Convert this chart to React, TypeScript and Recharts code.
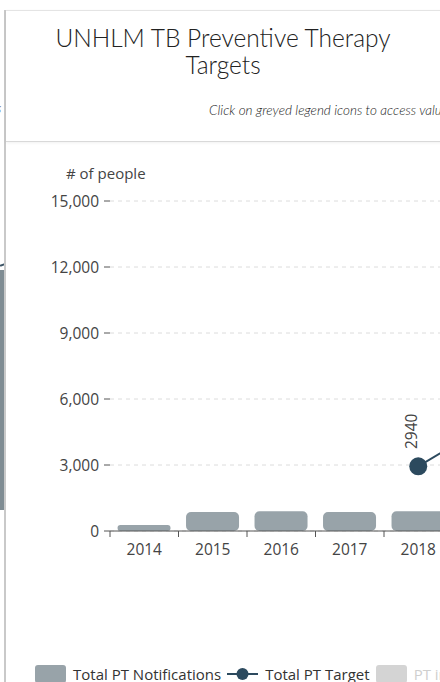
import { Bar, CartesianGrid, ComposedChart, LabelList, Line, XAxis, YAxis } from 'recharts';

const years = ['2014', '2015', '2016', '2017', '2018', '2019', '2020', '2021', '2022'];
const ptNotifications = [270, 860, 900, 860, 900, 980, 940, 1080, 1150];
const ptTarget = [null, null, null, null, 2940, 4800, 6700, 8600, 10500];
const yTicks = [0, 3000, 6000, 9000, 12000, 15000];

const legendItems = [
  { label: 'Total PT Notifications', kind: 'rect', color: '#98a3a9', text: '#333' },
  { label: 'Total PT Target', kind: 'line', color: '#2c4a5e', text: '#333' },
  { label: 'PT in children', kind: 'rect', color: '#d4d4d4', text: '#cfcfcf' },
];

const data = years.map((year, i) => ({
  year,
  notifications: ptNotifications[i],
  target: ptTarget[i],
}));

const BAND = 68.5;
const Y_AXIS_W = 104;
const CHART_W = Y_AXIS_W + BAND * years.length;
const CHART_H = 420;
const FONT = '"Open Sans", sans-serif';

const fmt = (v: number) => v.toLocaleString('en-US');

function XTick({ x, y, payload }: any) {
  const bx = x - BAND / 2;
  return (
    <g>
      <line x1={bx} x2={bx} y1={y} y2={y + 6} stroke="#555" strokeWidth={1} />
      <text x={x} y={y + 13} dy="0.71em" textAnchor="middle" fill="#444" fontSize={15.5} fontFamily={FONT}>
        {payload.value}
      </text>
    </g>
  );
}

function TargetLabel({ x, y, value }: any) {
  if (value == null) return null;
  const lx = x - 7;
  const ly = y - 35;
  return (
    <text
      x={lx}
      y={ly}
      transform={`rotate(-90, ${lx}, ${ly})`}
      textAnchor="middle"
      dominantBaseline="central"
      fill="#444"
      fontSize={15.5}
      fontFamily={FONT}
    >
      {value}
    </text>
  );
}

export default function App() {
  return (
    <div
      style={{
        position: 'fixed',
        left: 0,
        top: 0,
        width: 440,
        height: 682,
        overflow: 'hidden',
        background: '#fff',
        fontFamily: FONT,
      }}
    >
      {/* neighbouring panel sliver */}
      <div style={{ position: 'absolute', left: 0, top: 270, width: 5, height: 240, background: '#7f8c93' }} />
      <div style={{ position: 'absolute', left: 0, top: 264, width: 5, height: 2, background: '#3d5566', transform: 'rotate(-20deg)' }} />
      <div style={{ position: 'absolute', left: -4, top: 100, fontSize: 12, fontStyle: 'italic', color: '#555' }}>s</div>
      <div style={{ position: 'absolute', left: 4, top: 10, width: 2, height: 672, background: '#c9c9c9' }} />

      {/* header card */}
      <div
        style={{
          position: 'absolute',
          left: 6,
          top: 10,
          width: 600,
          height: 130,
          borderTop: '1px solid #e4e4e4',
          borderBottom: '1px solid #d9d9d9',
          boxShadow: '0 1px 3px rgba(0,0,0,0.06)',
          background: '#fff',
        }}
      />
      <div
        style={{
          position: 'absolute',
          left: 6,
          top: 24,
          width: 434,
          textAlign: 'center',
          fontFamily: 'Lato, sans-serif',
          fontWeight: 300,
          fontSize: 24.5,
          lineHeight: '27px',
          color: '#222',
        }}
      >
        UNHLM TB Preventive Therapy
        <br />
        Targets
      </div>
      <div
        style={{
          position: 'absolute',
          left: 209,
          top: 102,
          whiteSpace: 'nowrap',
          fontFamily: 'Lato, sans-serif',
          fontStyle: 'italic',
          fontWeight: 300,
          fontSize: 13.5,
          color: '#222',
        }}
      >
        Click on greyed legend icons to access values
      </div>

      {/* chart */}
      <div style={{ position: 'absolute', left: 66, top: 163, fontSize: 15, color: '#444', whiteSpace: 'nowrap' }}>
        # of people
      </div>
      <div style={{ position: 'absolute', left: 6, top: 141 }}>
        <ComposedChart
          width={CHART_W}
          height={CHART_H}
          data={data}
          margin={{ top: 60, right: 0, left: 0, bottom: 0 }}
          barCategoryGap="11%"
        >
          <CartesianGrid vertical={false} stroke="#dcdcdc" strokeDasharray="4 4" />
          <XAxis
            dataKey="year"
            height={30}
            axisLine={{ stroke: '#555' }}
            tickLine={false}
            tickSize={0}
            tickMargin={0}
            tick={<XTick />}
            interval={0}
          />
          <YAxis
            width={Y_AXIS_W}
            domain={[0, 15000]}
            ticks={yTicks}
            axisLine={false}
            tickLine={{ stroke: '#555' }}
            tickSize={6}
            tickMargin={5}
            tickFormatter={fmt}
            tick={{ fill: '#444', fontSize: 15.5, fontFamily: FONT }}
          />
          <Bar dataKey="notifications" fill="#98a3a9" radius={[5, 5, 5, 5]} isAnimationActive={false} />
          <Line
            dataKey="target"
            stroke="#2c4a5e"
            strokeWidth={2}
            dot={{ r: 9, fill: '#2c4a5e', stroke: 'none' }}
            activeDot={false}
            connectNulls
            isAnimationActive={false}
          >
            <LabelList dataKey="target" content={<TargetLabel />} />
          </Line>
        </ComposedChart>
      </div>

      {/* legend */}
      <div style={{ position: 'absolute', left: 35, top: 664, display: 'flex', alignItems: 'center', whiteSpace: 'nowrap' }}>
        {legendItems.map((item) => (
          <div key={item.label} style={{ display: 'flex', alignItems: 'center', marginRight: 6 }}>
            {item.kind === 'rect' ? (
              <div style={{ width: 31, height: 18, borderRadius: 3, background: item.color }} />
            ) : (
              <svg width={31} height={18}>
                <line x1={0} x2={31} y1={9} y2={9} stroke={item.color} strokeWidth={2} />
                <circle cx={15.5} cy={9} r={6} fill={item.color} />
              </svg>
            )}
            <span style={{ marginLeft: 7, fontSize: 15, color: item.text }}>{item.label}</span>
          </div>
        ))}
      </div>
    </div>
  );
}
